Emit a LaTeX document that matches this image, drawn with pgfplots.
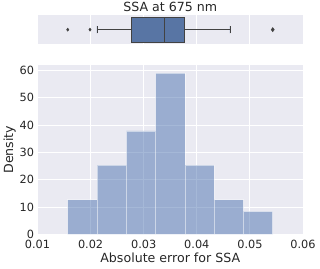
\documentclass[border=0pt]{standalone}
\usepackage{fontspec}
\setmainfont{DejaVu Sans}
\usepackage{pgfplots}
\usepgfplotslibrary{statistics}
\pgfplotsset{compat=1.18}
\definecolor{bg}{RGB}{234,234,242}
\definecolor{sbblue}{RGB}{76,114,176}
\definecolor{boxblue}{RGB}{88,117,164}
\definecolor{boxedge}{RGB}{66,66,66}
\definecolor{txt}{RGB}{38,38,38}
\begin{document}
\begin{tikzpicture}
\pgfplotsset{
  sbstyle/.style={
    scale only axis,
    axis background/.style={fill=bg},
    axis line style={draw=none},
    major tick length=0pt,
    grid=major,
    major grid style={white, line width=0.9pt},
    xmin=0.01, xmax=0.06,
    scaled x ticks=false,
    xtick={0.01,0.02,0.03,0.04,0.05,0.06},
    tick label style={font=\fontsize{11.3}{13}\selectfont, text=txt},
    label style={font=\fontsize{12.6}{14}\selectfont, text=txt},
    title style={font=\fontsize{12.6}{14}\selectfont, text=txt},
    /pgf/number format/assume math mode=true,
  }
}
% main histogram axis
\begin{axis}[sbstyle,
  at={(37.5pt,33.7pt)}, anchor=south west,
  width=265.5pt, height=169.3pt,
  ymin=0, ymax=62,
  ytick={0,10,20,30,40,50,60},
  yticklabels={0,10,20,30,40,50,60},
  xticklabels={0.01,0.02,0.03,0.04,0.05,0.06},
  xlabel={Absolute error for SSA},
  ylabel={Density},
  xticklabel style={yshift=-2.5pt},
  xlabel style={yshift=3pt},
  ylabel style={yshift=-3pt},
]
\addplot[ybar interval, fill=sbblue, fill opacity=0.5, draw=white, draw opacity=0.5, line width=0.6pt]
coordinates {
(0.01569,12.65)
(0.02121,25.3)
(0.02672,37.9)
(0.03224,59.0)
(0.03775,25.3)
(0.04327,12.65)
(0.04878,8.43)
(0.05430,8.43)
};
\end{axis}
% box plot axis
\begin{axis}[sbstyle,
  at={(37.5pt,223.7pt)}, anchor=south west,
  width=265.5pt, height=29.3pt,
  ymin=-0.5, ymax=0.5,
  ytick=\empty,
  xticklabels={},
  ymajorgrids=false,
  title={SSA at 675 nm},
  title style={yshift=-6pt},
]
\addplot[boxplot prepared={
    lower whisker=0.0212, lower quartile=0.0276,
    median=0.0340, upper quartile=0.0376,
    upper whisker=0.04625,
    draw position=0, box extend=0.85, whisker extend=0.25,
    draw direction=x},
  draw=boxedge, line width=0.9pt, fill=boxblue, solid]
  coordinates {};
\addplot[only marks, mark=diamond*, mark size=1.6pt, color=boxedge]
  coordinates {(0.01569,0) (0.01989,0)};
\addplot[only marks, mark=diamond*, mark size=2.1pt, color=boxedge]
  coordinates {(0.0543,0)};
\end{axis}
\pgfresetboundingbox
\useasboundingbox (0,0) rectangle (320pt,268pt);
\end{tikzpicture}
\end{document}
